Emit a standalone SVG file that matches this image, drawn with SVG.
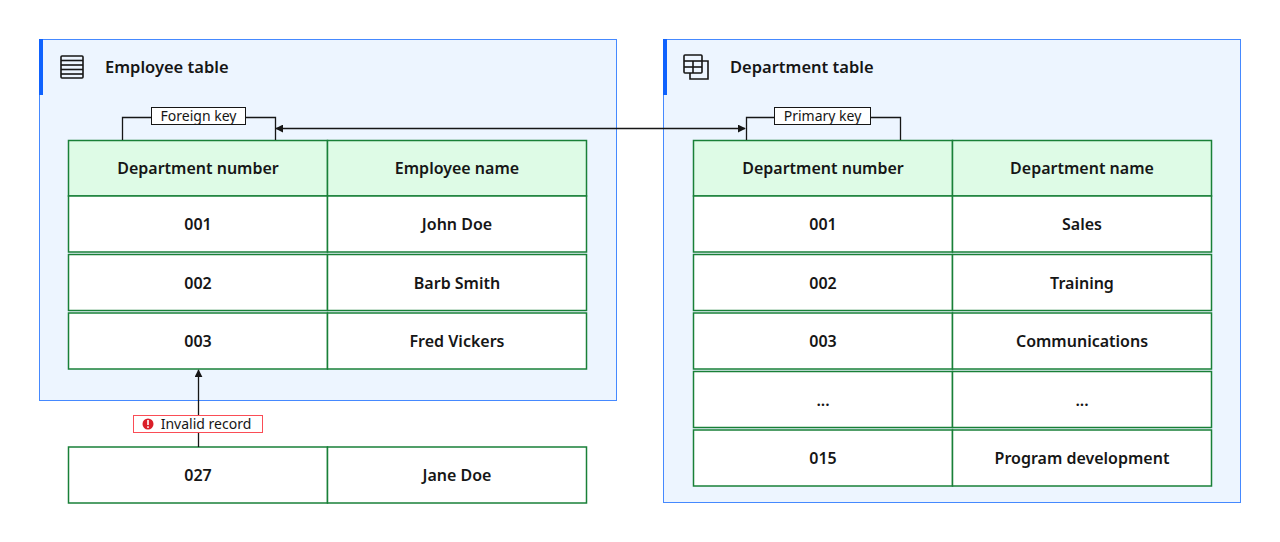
<svg xmlns="http://www.w3.org/2000/svg" width="1280" height="542" viewBox="0 0 1280 542">
<style>
.bg{fill:#ffffff}
.cont{fill:#edf5ff;stroke:#4589ff;stroke-width:1}
.accent{fill:#0f62fe}
.title{font-family:"Noto Sans","Liberation Sans",sans-serif;font-size:16.5px;font-weight:600;fill:#161616}
.hd{fill:#defbe6;stroke:#198038;stroke-width:1.5}
.cell{fill:#ffffff;stroke:#198038;stroke-width:1.5}
.ct{font-family:"Noto Sans","Liberation Sans",sans-serif;font-size:16px;font-weight:600;fill:#161616;text-anchor:middle}
.lbl{fill:#ffffff;stroke:#161616;stroke-width:1}
.lt{font-family:"Noto Sans","Liberation Sans",sans-serif;font-size:14px;fill:#161616;text-anchor:middle}
.wire{fill:none;stroke:#161616;stroke-width:1.3}
.icon{fill:none;stroke:#161616;stroke-width:1.6}
</style>
<defs>
<marker id="ah" viewBox="0 0 10 10" refX="9" refY="5" markerWidth="8" markerHeight="8" orient="auto-start-reverse" markerUnits="userSpaceOnUse">
<path d="M0,0 L10,5 L0,10 z" fill="#161616"/>
</marker>
</defs>
<rect class="bg" x="0" y="0" width="1280" height="542"/>

<g id="employee-table">
<rect class="cont" x="39.5" y="39.5" width="577" height="361"/>
<rect class="accent" x="39" y="39" width="4" height="56"/>
<g class="icon">
<rect x="61" y="56" width="22" height="22" rx="1"/>
<line x1="61" y1="60.5" x2="83" y2="60.5"/>
<line x1="61" y1="65" x2="83" y2="65"/>
<line x1="61" y1="69.5" x2="83" y2="69.5"/>
<line x1="61" y1="74" x2="83" y2="74"/>
</g>
<text class="title" x="105" y="73">Employee table</text>
<rect class="hd" x="68.5" y="140.5" width="259" height="55.5"/>
<rect class="hd" x="327.5" y="140.5" width="259" height="55.5"/>
<text class="ct" x="198" y="174">Department number</text>
<text class="ct" x="457" y="174">Employee name</text>
<rect class="cell" x="68.5" y="196" width="259" height="56"/>
<rect class="cell" x="327.5" y="196" width="259" height="56"/>
<text class="ct" x="198" y="230">001</text>
<text class="ct" x="457" y="230">John Doe</text>
<rect class="cell" x="68.5" y="254.5" width="259" height="56"/>
<rect class="cell" x="327.5" y="254.5" width="259" height="56"/>
<text class="ct" x="198" y="288.5">002</text>
<text class="ct" x="457" y="288.5">Barb Smith</text>
<rect class="cell" x="68.5" y="313" width="259" height="56"/>
<rect class="cell" x="327.5" y="313" width="259" height="56"/>
<text class="ct" x="198" y="347">003</text>
<text class="ct" x="457" y="347">Fred Vickers</text>
</g>

<g id="invalid-row">
<rect class="cell" x="68.5" y="447" width="259" height="56"/>
<rect class="cell" x="327.5" y="447" width="259" height="56"/>
<text class="ct" x="198" y="481">027</text>
<text class="ct" x="457" y="481">Jane Doe</text>
</g>

<g id="department-table">
<rect class="cont" x="663.5" y="39.5" width="577" height="463"/>
<rect class="accent" x="663" y="39" width="4" height="56"/>
<g class="icon">
<rect x="684" y="55" width="18" height="18" rx="1"/>
<line x1="684" y1="61" x2="702" y2="61"/>
<line x1="684" y1="67" x2="702" y2="67"/>
<line x1="693" y1="61" x2="693" y2="73"/>
<path d="M702,61 H708 V79 H690 V73"/>
</g>
<text class="title" x="730" y="73">Department table</text>
<rect class="hd" x="693.5" y="140.5" width="259" height="55.5"/>
<rect class="hd" x="952.5" y="140.5" width="259" height="55.5"/>
<text class="ct" x="823" y="174">Department number</text>
<text class="ct" x="1082" y="174">Department name</text>
<rect class="cell" x="693.5" y="196" width="259" height="56"/>
<rect class="cell" x="952.5" y="196" width="259" height="56"/>
<text class="ct" x="823" y="230">001</text>
<text class="ct" x="1082" y="230">Sales</text>
<rect class="cell" x="693.5" y="254.5" width="259" height="56"/>
<rect class="cell" x="952.5" y="254.5" width="259" height="56"/>
<text class="ct" x="823" y="288.5">002</text>
<text class="ct" x="1082" y="288.5">Training</text>
<rect class="cell" x="693.5" y="313" width="259" height="56"/>
<rect class="cell" x="952.5" y="313" width="259" height="56"/>
<text class="ct" x="823" y="347">003</text>
<text class="ct" x="1082" y="347">Communications</text>
<rect class="cell" x="693.5" y="371.5" width="259" height="56"/>
<rect class="cell" x="952.5" y="371.5" width="259" height="56"/>
<text class="ct" x="823" y="405.5">...</text>
<text class="ct" x="1082" y="405.5">...</text>
<rect class="cell" x="693.5" y="430" width="259" height="56"/>
<rect class="cell" x="952.5" y="430" width="259" height="56"/>
<text class="ct" x="823" y="464">015</text>
<text class="ct" x="1082" y="464">Program development</text>
</g>

<g id="connectors">
<path class="wire" d="M122.5,140 V117.5 H275.5 V140"/>
<path class="wire" d="M746.5,140 V117.5 H900.5 V140"/>
<line class="wire" x1="276" y1="128.5" x2="745" y2="128.5" marker-start="url(#ah)" marker-end="url(#ah)"/>
<line class="wire" x1="198.5" y1="447" x2="198.5" y2="370" marker-end="url(#ah)"/>
</g>

<g id="foreign-key-label">
<rect class="lbl" x="151.5" y="107.5" width="94" height="17"/>
<text class="lt" x="198.5" y="121">Foreign key</text>
</g>
<g id="primary-key-label">
<rect class="lbl" x="774.5" y="107.5" width="96" height="17"/>
<text class="lt" x="822.5" y="121">Primary key</text>
</g>
<g id="invalid-record-label">
<rect x="133.5" y="415.5" width="129" height="17" fill="#ffffff" stroke="#fa4d56" stroke-width="1"/>
<circle cx="148" cy="424" r="5.5" fill="#da1e28"/>
<rect x="147.2" y="420" width="1.6" height="5" fill="#ffffff"/>
<rect x="147.2" y="426.3" width="1.6" height="1.6" fill="#ffffff"/>
<text class="lt" x="206" y="429">Invalid record</text>
</g>
</svg>
